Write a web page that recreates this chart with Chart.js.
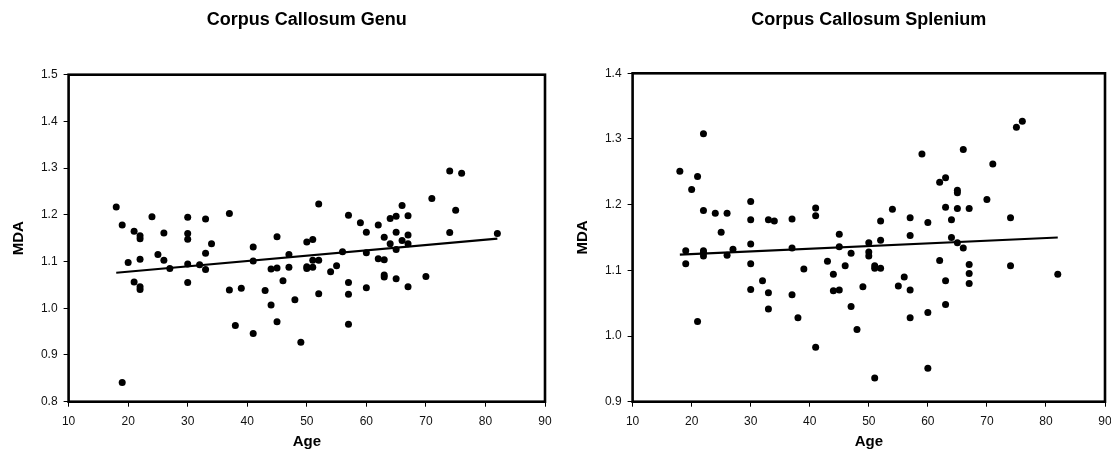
<!DOCTYPE html>
<html>
<head>
<meta charset="utf-8">
<title>Corpus Callosum MDA vs Age</title>
<script src="https://cdn.jsdelivr.net/npm/chart.js@4.4.1/dist/chart.umd.min.js"></script>
<style>
  html, body { margin: 0; padding: 0; background: #fff; overflow: hidden; }
  body { width: 1111px; height: 461px; position: relative; }
  .panel { position: absolute; top: 0; }
  #genuBox { left: 0; }
  #spleniumBox { left: 564px; }
</style>
</head>
<body>
<div class="panel" id="genuBox"><canvas id="genu" width="560" height="461"></canvas></div>
<div class="panel" id="spleniumBox"><canvas id="splenium" width="560" height="461"></canvas></div>
<script>
// ---- Data ----
const ageTicks = { min: 10, max: 90, step: 10 };

const genuAge = [18, 19, 19, 20, 21, 21, 22, 22, 22, 22, 22, 24, 25, 26, 26, 27,
  30, 30, 30, 30, 30, 32, 33, 33, 33, 34, 37, 37, 38, 39, 41, 41, 41, 43, 44, 44,
  45, 45, 45, 46, 47, 47, 48, 49, 50, 50, 50, 51, 51, 51, 52, 52, 52, 54, 55, 56,
  57, 57, 57, 57, 59, 60, 60, 60, 62, 62, 63, 63, 63, 63, 64, 64, 65, 65, 65, 65,
  66, 66, 67, 67, 67, 67, 70, 71, 74, 74, 75, 76, 82];
const genuMDA = [1.217, 1.178, 0.841, 1.098, 1.165, 1.056, 1.155, 1.149, 1.105, 1.046, 1.040, 1.196, 1.115, 1.161, 1.103, 1.085,
  1.195, 1.160, 1.148, 1.095, 1.055, 1.093, 1.191, 1.118, 1.083, 1.138, 1.203, 1.039, 0.963, 1.043, 1.131, 1.101, 0.946, 1.038, 1.084, 1.007,
  1.153, 1.086, 0.971, 1.059, 1.115, 1.088, 1.018, 0.927, 1.142, 1.089, 1.085, 1.147, 1.103, 1.088, 1.223, 1.103, 1.031, 1.078, 1.091, 1.121,
  1.199, 1.055, 1.030, 0.966, 1.183, 1.163, 1.119, 1.044, 1.178, 1.106, 1.152, 1.104, 1.071, 1.067, 1.192, 1.138, 1.197, 1.163, 1.126, 1.063,
  1.220, 1.145, 1.198, 1.157, 1.138, 1.046, 1.068, 1.235, 1.294, 1.162, 1.210, 1.289, 1.160];
const genuTrendAge = [18, 82];
const genuTrendMDA = [1.076, 1.149];
const genuRange = { min: 0.8, max: 1.5 };

const spleniumAge = [18, 19, 19, 20, 21, 21, 22, 22, 22, 22, 22, 24, 25, 26, 26, 27,
  30, 30, 30, 30, 30, 32, 33, 33, 33, 34, 37, 37, 37, 38, 39, 41, 41, 41, 43, 44, 44,
  45, 45, 45, 46, 47, 47, 48, 49, 50, 50, 50, 51, 51, 51, 52, 52, 52, 54, 55, 56,
  57, 57, 57, 57, 59, 60, 60, 60, 62, 62, 63, 63, 63, 63, 64, 64, 65, 65, 65, 65,
  66, 66, 67, 67, 67, 67, 70, 71, 74, 74, 75, 76, 82];
const spleniumMDA = [1.251, 1.130, 1.110, 1.223, 1.243, 1.022, 1.308, 1.191, 1.130, 1.127, 1.122, 1.187, 1.158, 1.187, 1.123, 1.132,
  1.205, 1.177, 1.140, 1.110, 1.071, 1.084, 1.177, 1.066, 1.041, 1.175, 1.178, 1.134, 1.063, 1.028, 1.102, 1.195, 1.183, 0.983, 1.114, 1.094, 1.069,
  1.155, 1.136, 1.070, 1.107, 1.126, 1.045, 1.010, 1.075, 1.142, 1.128, 1.122, 1.107, 1.103, 0.936, 1.175, 1.146, 1.103, 1.193, 1.076, 1.090,
  1.180, 1.153, 1.070, 1.028, 1.277, 1.173, 1.036, 0.951, 1.234, 1.115, 1.241, 1.196, 1.084, 1.048, 1.177, 1.150, 1.222, 1.218, 1.194, 1.142,
  1.284, 1.134, 1.194, 1.109, 1.095, 1.080, 1.208, 1.262, 1.180, 1.107, 1.318, 1.327, 1.094];
const spleniumTrendAge = [18, 82];
const spleniumTrendMDA = [1.124, 1.150];
const spleniumRange = { min: 0.9, max: 1.4 };

// ---- Drawing ----
const FONT = "'Liberation Sans', Arial, Helvetica, sans-serif";

// Heavy black box around the plotting area
const framePlugin = {
  id: 'frame',
  afterDatasetsDraw(chart, args, opts) {
    const { ctx, chartArea: a } = chart;
    ctx.save();
    ctx.lineWidth = opts.width;
    ctx.strokeStyle = opts.color;
    ctx.strokeRect(a.left, a.top, a.right - a.left, a.bottom - a.top);
    ctx.restore();
  }
};

const pairs = (xs, ys) => xs.map((x, i) => ({ x: x, y: ys[i] }));

function makePanel(id, titleText, ages, mda, trendAges, trendMDA, range, topSpace, rightPad) {
  const titleSize = 18, titleLH = titleSize * 1.2, titleTop = 9.5;
  return new Chart(document.getElementById(id), {
    type: 'scatter',
    data: {
      datasets: [
        {
          data: pairs(trendAges, trendMDA),
          showLine: true,
          borderColor: '#000',
          borderWidth: 2.2,
          pointRadius: 0,
          fill: false
        },
        {
          data: pairs(ages, mda),
          backgroundColor: '#000',
          borderColor: '#000',
          borderWidth: 0,
          pointRadius: 3.5
        }
      ]
    },
    options: {
      responsive: false,
      animation: false,
      events: [],
      layout: { padding: { left: 0, right: rightPad, top: 0, bottom: 0 } },
      plugins: {
        legend: { display: false },
        tooltip: { enabled: false },
        title: {
          display: true,
          text: titleText,
          fullSize: false,
          color: '#000',
          font: { family: FONT, size: titleSize, weight: 'bold', lineHeight: 1.2 },
          padding: { top: titleTop, bottom: topSpace - titleTop - titleLH }
        },
        frame: { width: 2.6, color: '#000' }
      },
      scales: {
        x: {
          type: 'linear',
          min: ageTicks.min,
          max: ageTicks.max,
          ticks: {
            stepSize: ageTicks.step,
            color: '#111',
            font: { family: FONT, size: 12 },
            padding: 8,
            maxRotation: 0
          },
          grid: { display: true, drawOnChartArea: false, drawTicks: true, tickLength: 5, color: '#000', lineWidth: 1 },
          border: { display: false },
          title: {
            display: true,
            text: 'Age',
            color: '#000',
            font: { family: FONT, size: 15, weight: 'bold', lineHeight: 1.2 },
            padding: { top: 0, bottom: 10 }
          },
          afterFit(scale) { scale.height = 461 - 401.7; }
        },
        y: {
          type: 'linear',
          min: range.min,
          max: range.max,
          ticks: {
            stepSize: 0.1,
            color: '#111',
            font: { family: FONT, size: 12 },
            padding: 6,
            callback: v => Number(v).toFixed(1)
          },
          grid: { display: true, drawOnChartArea: false, drawTicks: true, tickLength: 5, color: '#000', lineWidth: 1 },
          border: { display: false },
          title: {
            display: true,
            text: 'MDA',
            color: '#000',
            font: { family: FONT, size: 15, weight: 'bold', lineHeight: 1.2 },
            padding: { top: 10, bottom: 0 }
          },
          afterFit(scale) { scale.width = 68.6; }
        }
      }
    },
    plugins: [framePlugin]
  });
}

makePanel('genu', 'Corpus Callosum Genu', genuAge, genuMDA, genuTrendAge, genuTrendMDA, genuRange, 74.7, 15);
makePanel('splenium', 'Corpus Callosum Splenium', spleniumAge, spleniumMDA, spleniumTrendAge, spleniumTrendMDA, spleniumRange, 73.3, 19);
</script>
</body>
</html>
